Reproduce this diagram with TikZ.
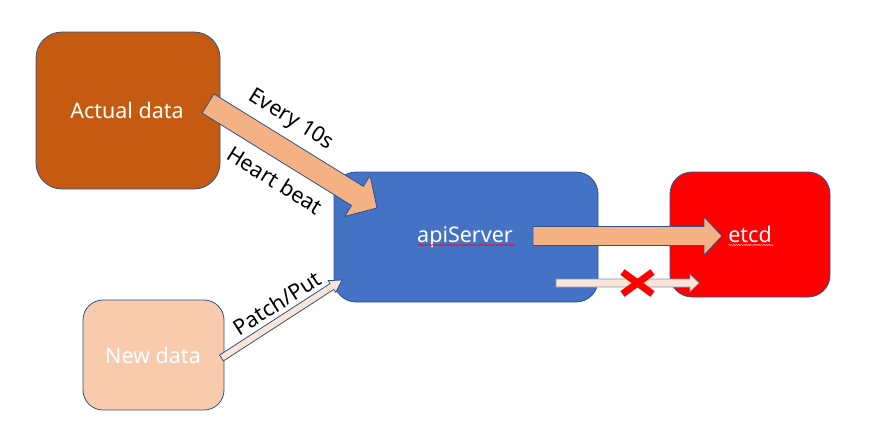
\documentclass[tikz,border=0pt]{standalone}
\usepackage{fontspec}
\setmainfont{Noto Sans}
\usetikzlibrary{calc,decorations.pathmorphing}
\definecolor{boxline}{HTML}{2F528F}
\definecolor{actualc}{HTML}{C55A11}
\definecolor{apic}{HTML}{4472C4}
\definecolor{etcdc}{HTML}{FF0000}
\definecolor{newc}{HTML}{F8CBAD}
\definecolor{arrowc}{HTML}{F4B183}
\definecolor{lightarrowc}{HTML}{FBE5D6}
\newcommand\blockarr[6]{%
  \path ($(#3)!#6!(#2)$) coordinate (tmpc);
  \draw[#1] ($(#2)!#4!90:(#3)$) -- ($(tmpc)!#4!90:(#3)$) -- ($(tmpc)!#5!90:(#3)$) -- (#3)
    -- ($(tmpc)!#5!-90:(#3)$) -- ($(tmpc)!#4!-90:(#3)$) -- ($(#2)!#4!-90:(#3)$) -- cycle;}
\tikzset{
  box/.style={draw=boxline, line width=0.8pt, inner sep=0pt},
  txt/.style={text=white, font=\fontsize{21.5}{24}\selectfont, inner sep=0pt, anchor=base},
  blk/.style={draw=boxline, line width=0.8pt, line join=miter},
  lbl/.style={font=\fontsize{21.5}{24}\selectfont, text=black, inner sep=0pt},
  wavy/.style={line width=0.4pt, decorate, decoration={snake, amplitude=0.7pt, segment length=2.5pt}},
}
\begin{document}
\begin{tikzpicture}[x=1pt,y=-1pt]
\useasboundingbox (0,0) rectangle (878,437);
% boxes
\node[box, fill=actualc, rounded corners=26pt, minimum width=184pt, minimum height=157pt] (actual) at (128,110.5) {};
\node[box, fill=apic, rounded corners=22pt, minimum width=264pt, minimum height=130pt] (api) at (466,237) {};
\node[box, fill=etcdc, rounded corners=22pt, minimum width=160pt, minimum height=125pt] (etcd) at (750,234.5) {};
\node[box, fill=newc, rounded corners=20pt, minimum width=141pt, minimum height=110pt] (new) at (153.5,355) {};
% arrows
\coordinate (a1) at (208,103.5); \coordinate (b1) at (377,208);
\blockarr{blk, fill=arrowc}{a1}{b1}{11.25pt}{24pt}{23pt}
\coordinate (a2) at (533,236); \coordinate (b2) at (722,236);
\blockarr{blk, fill=arrowc}{a2}{b2}{9.5pt}{19pt}{18pt}
\coordinate (a3) at (556,283); \coordinate (b3) at (699,283);
\blockarr{blk, draw=boxline!60, fill=lightarrowc}{a3}{b3}{4pt}{8.5pt}{9pt}
\coordinate (a4) at (221.5,358); \coordinate (b4) at (342,280);
\blockarr{blk, fill=lightarrowc}{a4}{b4}{3.5pt}{7pt}{12pt}
% red cross
\coordinate (xc) at (637.5,283);
\draw[etcdc, line width=7pt] ($(xc)+(-15,-11)$) -- ($(xc)+(15,11)$);
\draw[etcdc, line width=7pt] ($(xc)+(-15,11)$) -- ($(xc)+(15,-11)$);
% node texts
\node[txt] (actualt) at (127,118) {Actual data};
\node[txt] (newt) at (153,363) {New data};
\node[txt] (apit) at (465,242) {apiServer};
\node[txt] (etcdt) at (750,242) {etcd};
\draw[wavy, red] ($(apit.base west)+(0,3)$) -- ($(apit.base east)+(2,3)$);
\draw[wavy, white!75!red] ($(etcdt.base west)+(0,3)$) -- ($(etcdt.base east)+(2,3)$);
% labels
\node[lbl, rotate=-32] (l1) at (291,120) {Every 10s};
\node[lbl, rotate=-32] (l2) at (275,180) {Heart beat};
\node[lbl, rotate=32.5] (l3) at (277,303) {Patch/Put};
\end{tikzpicture}
\end{document}
